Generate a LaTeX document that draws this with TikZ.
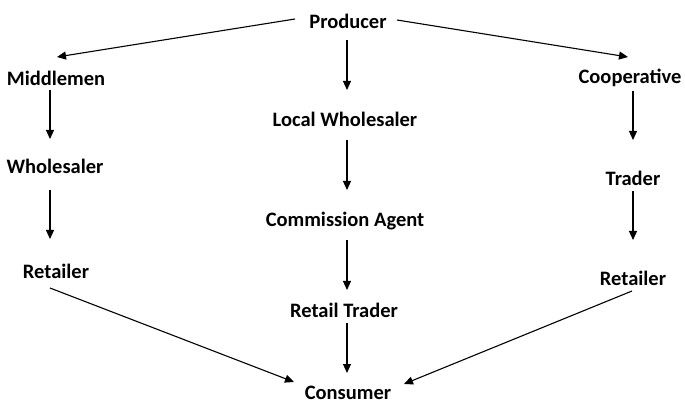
\documentclass[tikz,border=0pt]{standalone}
\usepackage{fontspec}
\setmainfont{Carlito}
\usepackage{tikz}
\usetikzlibrary{arrows.meta, positioning}
\definecolor{inkcol}{RGB}{0,0,0}
\tikzset{
  stage/.style={inner sep=0pt,font=\fontsize{20.5}{24}\selectfont\bfseries,text=inkcol},
  flow/.style={-{Triangle[length=9pt,width=8pt]},line width=1.1pt,draw=inkcol},
}

\begin{document}
\begin{tikzpicture}[x=1pt,y=-1pt]
  \useasboundingbox (0,0) rectangle (685,403);
  % top and the three channels
  \node[stage] (prod) at (348,21) {Producer};
  \node[stage] (midl) at (56,78) {Middlemen};
  \node[stage] (whol) at (55,166) {Wholesaler};
  \node[stage] (retL) at (56,271) {Retailer};
  \node[stage] (locw) at (345,119) {Local Wholesaler};
  \node[stage] (comm) at (345,221) {Commission Agent};
  \node[stage] (rett) at (344,310) {Retail Trader};
  \node[stage] (coop) at (630,78) {Cooperative};
  \node[stage] (trad) at (633,178) {Trader};
  \node[stage] (retR) at (633,278) {Retailer};
  \node[stage] (cons) at (348,393) {Consumer};
  % arrows
  \draw[flow] ([shift={(-53,-2)}]prod.center) -- ([shift={(1,-21)}]midl.center);
  \draw[flow] ([shift={(49,-1)}]prod.center) -- ([shift={(-2,-21)}]coop.center);
  \draw[flow] ([shift={(-1,19)}]prod.center) -- ([shift={(2,-29)}]locw.center);
  \draw[flow] ([shift={(-6,12)}]midl.center) -- ([shift={(-5,-27)}]whol.center);
  \draw[flow] ([shift={(-5,24)}]whol.center) -- ([shift={(-6,-32)}]retL.center);
  \draw[flow] ([shift={(2,21)}]locw.center) -- ([shift={(2,-31)}]comm.center);
  \draw[flow] ([shift={(2,19)}]comm.center) -- ([shift={(3,-20)}]rett.center);
  \draw[flow] ([shift={(3,13)}]rett.center) -- ([shift={(-1,-20)}]cons.center);
  \draw[flow] ([shift={(3,13)}]coop.center) -- ([shift={(0,-38)}]trad.center);
  \draw[flow] ([shift={(0,13)}]trad.center) -- ([shift={(0,-38)}]retR.center);
  \draw[flow] ([shift={(-6,17)}]retL.center) -- ([shift={(-54,-11)}]cons.center);
  \draw[flow] ([shift={(-1,13)}]retR.center) -- ([shift={(56,-9)}]cons.center);
\end{tikzpicture}
\end{document}
